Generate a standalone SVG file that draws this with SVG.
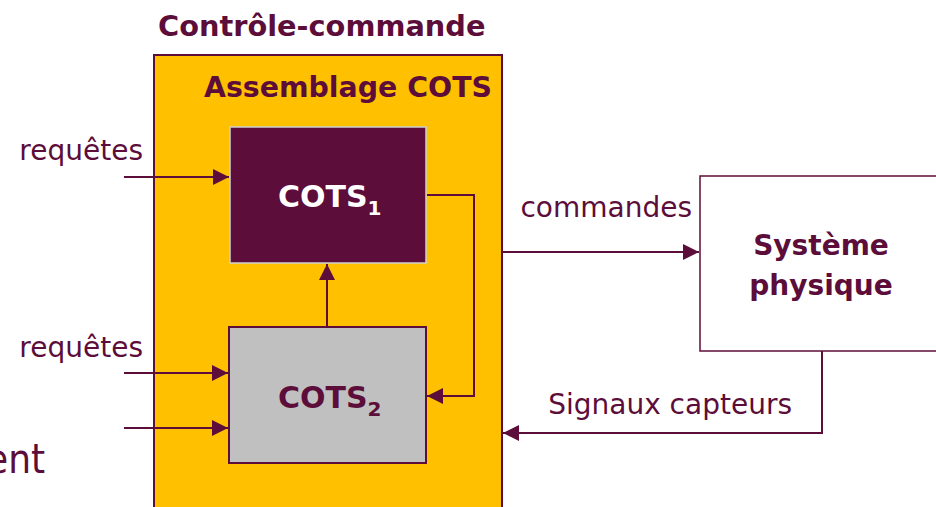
<svg xmlns="http://www.w3.org/2000/svg" width="936" height="507" viewBox="0 0 936 507">
  <style>
    .t { font-family: "DejaVu Sans", "Liberation Sans", sans-serif; fill: #5C0D3A; }
    .b { font-weight: bold; }
    .ln { fill: none; stroke: #5C0D3A; stroke-width: 2; }
  </style>
  <defs>
    <marker id="ah" viewBox="0 0 10 10" refX="10" refY="5" markerWidth="16" markerHeight="16" markerUnits="userSpaceOnUse" orient="auto">
      <path d="M0,0 L10,5 L0,10 Z" fill="#5C0D3A"/>
    </marker>
  </defs>

  <rect width="936" height="507" fill="#FFFFFF"/>

  <!-- left-edge fragment of a background label -->
  <text class="t" x="-14" y="473" font-size="40" style="font-family:'DejaVu Sans Condensed','DejaVu Sans',sans-serif">ent</text>

  <!-- outer controller -->
  <g id="controle-commande">
    <text class="t b" x="158" y="36" font-size="28.8">Contrôle-commande</text>
    <rect x="154" y="55" width="348" height="470" fill="#FFC000" stroke="#5C0D3A" stroke-width="2"/>
    <text class="t b" x="492" y="97" font-size="28.4" text-anchor="end">Assemblage COTS</text>
  </g>

  <g id="cots1">
    <rect x="230" y="127" width="196" height="136" fill="#5C0D3A" stroke="#D0D0D0" stroke-width="1.5"/>
    <text class="t b" x="278" y="207" font-size="30" style="fill:#FFFFFF">COTS<tspan font-size="20" dy="8">1</tspan></text>
  </g>

  <g id="cots2">
    <rect x="229" y="327" width="197" height="136" fill="#C0C0C0" stroke="#5C0D3A" stroke-width="2"/>
    <text class="t b" x="278" y="408" font-size="30">COTS<tspan font-size="20" dy="8">2</tspan></text>
  </g>

  <g id="systeme-physique">
    <rect x="700" y="176" width="250" height="175" fill="#FFFFFF" stroke="#5C0D3A" stroke-width="1.5"/>
    <text class="t b" x="821" y="255" font-size="28" text-anchor="middle">Système</text>
    <text class="t b" x="821" y="295" font-size="28" text-anchor="middle">physique</text>
  </g>

  <!-- connectors -->
  <g id="connectors">
    <path class="ln" d="M124,177 H229" marker-end="url(#ah)"/>
    <path class="ln" d="M124,373 H228" marker-end="url(#ah)"/>
    <path class="ln" d="M124,428 H228" marker-end="url(#ah)"/>
    <path class="ln" d="M327,327 V264" marker-end="url(#ah)"/>
    <path class="ln" d="M427,195 H474 V396 H427" marker-end="url(#ah)"/>
    <path class="ln" d="M503,252 H699" marker-end="url(#ah)"/>
    <path class="ln" d="M822,351 V433 H503" marker-end="url(#ah)"/>
  </g>

  <!-- connector labels -->
  <g id="labels">
    <text class="t" x="143" y="160" font-size="28" text-anchor="end">requêtes</text>
    <text class="t" x="143" y="357" font-size="28" text-anchor="end">requêtes</text>
    <text class="t" x="692" y="217" font-size="28" text-anchor="end">commandes</text>
    <text class="t" x="792" y="414" font-size="28" text-anchor="end">Signaux capteurs</text>
  </g>
</svg>
